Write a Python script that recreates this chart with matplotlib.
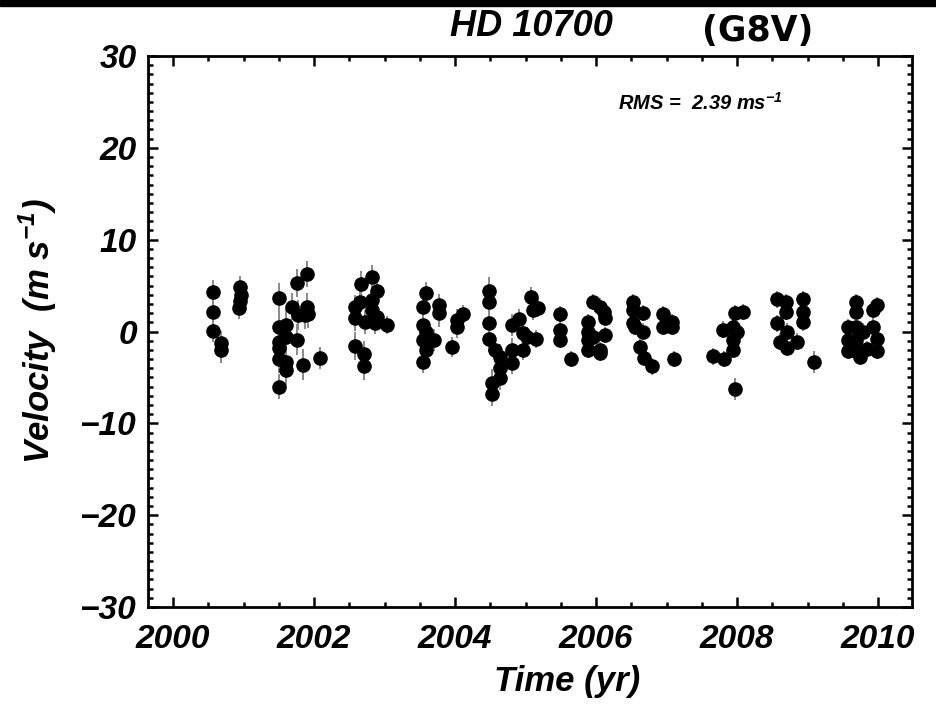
import matplotlib
matplotlib.use("Agg")
import matplotlib.pyplot as plt
from matplotlib import font_manager as fm
from matplotlib.patches import Rectangle
from matplotlib.ticker import MultipleLocator

names = {f.name for f in fm.fontManager.ttflist}
NARROW = ["Liberation Sans Narrow", "DejaVu Sans"] if "Liberation Sans Narrow" in names else ["Liberation Sans", "DejaVu Sans"]

# ---- data ----
years = [
    2000.57, 2000.57, 2000.57, 2000.68, 2000.68, 2000.93, 2000.95, 2000.96, 2000.95,
    2001.50, 2001.50, 2001.50, 2001.50, 2001.50, 2001.50,
    2001.60, 2001.60, 2001.60, 2001.60, 2001.69, 2001.76, 2001.76, 2001.77, 2001.84,
    2001.87, 2001.90, 2001.90, 2001.91, 2002.09,
    2002.58, 2002.58, 2002.58, 2002.65, 2002.67, 2002.71, 2002.71, 2002.72,
    2002.82, 2002.82, 2002.82, 2002.87, 2002.89, 2002.89, 2003.04,
    2003.55, 2003.55, 2003.55, 2003.55, 2003.59, 2003.59, 2003.59, 2003.70,
    2003.77, 2003.77, 2003.96, 2004.03, 2004.03, 2004.11,
    2004.48, 2004.48, 2004.48, 2004.48, 2004.52, 2004.52, 2004.57,
    2004.64, 2004.64, 2004.64, 2004.81, 2004.81, 2004.81, 2004.91, 2004.96, 2004.96,
    2005.02, 2005.08, 2005.11, 2005.15, 2005.18,
    2005.49, 2005.49, 2005.49, 2005.65,
    2005.89, 2005.89, 2005.89, 2005.89, 2005.96, 2005.96, 2006.06, 2006.06, 2006.06,
    2006.11, 2006.13, 2006.13,
    2006.52, 2006.52, 2006.52, 2006.55, 2006.62, 2006.67, 2006.67, 2006.68, 2006.79,
    2006.95, 2006.95, 2007.08, 2007.08, 2007.11,
    2007.66, 2007.80, 2007.82, 2007.94, 2007.94, 2007.94, 2007.97, 2007.97, 2008.00, 2008.09,
    2008.57, 2008.57, 2008.61, 2008.70, 2008.70, 2008.71, 2008.71, 2008.85,
    2008.94, 2008.94, 2008.94, 2009.09,
    2009.57, 2009.57, 2009.57, 2009.69, 2009.69, 2009.69, 2009.69, 2009.69,
    2009.74, 2009.79, 2009.84, 2009.93, 2009.93, 2009.99, 2009.99, 2009.99,
]
velocity = [
    4.3, 2.1, 0.05, -1.25, -2.0, 2.6, 3.3, 4.0, 4.8,
    3.65, 0.5, -1.1, -1.8, -3.0, -6.0,
    0.7, -0.6, -3.3, -4.2, 2.7, 5.3, -0.9, 1.8, -3.6,
    1.8, 6.3, 2.7, 1.9, -2.9,
    2.7, 1.5, -1.6, 3.2, 5.2, -2.4, -3.8, 1.0,
    5.9, 3.4, 2.3, 0.9, 4.4, 1.6, 0.7,
    2.7, 0.7, -0.9, -3.3, 4.2, 0.0, -2.0, -0.9,
    2.9, 2.0, -1.7, 1.2, 0.5, 1.9,
    4.4, 3.2, 0.9, -0.8, -5.6, -6.8, -2.0,
    -2.8, -4.0, -5.1, 0.7, -2.0, -3.4, 1.4, -0.2, -2.0,
    -0.6, 3.8, 2.3, -0.8, 2.6,
    1.9, 0.2, -0.9, -3.0,
    1.0, 0.0, -0.9, -2.0, 3.2, -0.6, 2.7, -2.0, -2.3,
    2.1, 1.5, -0.4,
    3.2, 2.3, 0.9, 0.5, -1.7, 2.0, 0.0, -2.9, -3.8,
    1.9, 0.5, 1.0, 0.5, -3.0,
    -2.7, 0.2, -3.0, 0.5, -0.9, -2.0, 2.0, -6.3, 0.0, 2.1,
    3.5, 0.9, -1.1, 3.2, 2.1, 0.0, -1.8, -1.1,
    3.5, 2.1, 1.0, -3.3,
    0.5, -0.9, -2.1, 3.2, 2.1, 0.5, -0.9, -2.1,
    -2.8, 0.0, -1.9, 2.3, 0.5, 2.9, -0.8, -2.1,
]
errors = [
    1.3, 1.2, 1.2, 1.3, 1.4, 1.2, 1.2, 1.3, 1.2,
    1.6, 1.5, 1.5, 1.6, 1.5, 1.4,
    1.7, 1.6, 1.5, 1.6, 1.5, 1.5, 1.7, 1.6, 1.7,
    1.5, 1.4, 1.5, 1.5, 1.2,
    1.3, 1.4, 1.5, 1.3, 1.4, 1.4, 1.5, 1.3,
    1.3, 1.4, 1.3, 1.2, 1.3, 1.2, 1.0,
    1.3, 1.2, 1.3, 1.2, 1.2, 1.3, 1.2, 1.2,
    1.2, 1.5, 1.1, 1.3, 1.2, 1.0,
    1.5, 1.4, 1.3, 1.4, 1.5, 1.3, 1.4,
    1.4, 1.5, 1.3, 1.2, 1.3, 1.2, 1.1, 1.2, 1.1,
    1.1, 1.0, 1.0, 1.0, 1.0,
    0.9, 0.9, 0.9, 0.9,
    0.9, 0.9, 0.9, 0.9, 0.9, 0.9, 0.9, 0.9, 0.9,
    0.9, 0.9, 0.9,
    0.9, 0.9, 0.9, 0.9, 0.9, 0.9, 0.9, 0.9, 0.9,
    0.9, 0.9, 0.9, 0.9, 0.9,
    0.9, 0.9, 0.9, 0.9, 0.9, 0.9, 0.9, 1.2, 0.9, 0.9,
    0.9, 0.9, 0.9, 0.9, 0.9, 0.9, 0.9, 0.9,
    0.9, 0.9, 0.9, 1.2,
    0.9, 0.9, 0.9, 0.9, 0.9, 0.9, 0.9, 0.9,
    0.9, 0.9, 0.9, 0.9, 0.9, 0.9, 0.9, 0.9,
]
xticks = [2000, 2002, 2004, 2006, 2008, 2010]
yticks = [-30, -20, -10, 0, 10, 20, 30]
title_star = "HD 10700"
title_type = "(G8V)"
rms_text = r"RMS =  2.39 ms$^{\mathregular{-1}}$"

fig = plt.figure(figsize=(9.37, 7.04), dpi=100)
ax = fig.add_axes([148/937, 1-607/704, (912-148)/937, (607-56)/704])

ax.errorbar(years, velocity, yerr=errors, fmt="none", ecolor="#8a8a8a", elinewidth=1.4, zorder=2)
ax.plot(years, velocity, "o", color="black", markersize=9.5, zorder=3)

ax.set_xlim(1999.645, 2010.48)
ax.set_ylim(-30, 30)
ax.set_xticks(xticks)
ax.set_yticks(yticks)
ax.xaxis.set_minor_locator(MultipleLocator(0.5))
ax.yaxis.set_minor_locator(MultipleLocator(1))
ax.tick_params(which="both", direction="in", top=True, right=True, width=1.8)
ax.tick_params(which="major", length=7, pad=12)
ax.tick_params(which="minor", length=3.8)
for s in ax.spines.values():
    s.set_linewidth(2.0)

tfont = dict(family=NARROW, weight="bold", style="italic")
ax.set_xticklabels([str(t) for t in xticks], **tfont, fontsize=24)
ax.set_yticklabels([("\u2212" + str(-t)) if t < 0 else str(t) for t in yticks], **tfont, fontsize=24)
ax.tick_params(axis="y", pad=8)

ax.set_xlabel("Time (yr)", **tfont, fontsize=25)
ax.xaxis.set_label_coords((567-148)/764, -(698-607)/551, transform=ax.transAxes)
ax.xaxis.label.set_va("bottom")
ax.set_ylabel(r"Velocity  (m s$^{\mathregular{-1}}$)", **tfont, fontsize=25, labelpad=15)

fig.text(531/937, 1-27/704, title_star, ha="center", va="center", **tfont, fontsize=26)
fig.text(758/937, 1-31/704, title_type, ha="center", va="center", family="DejaVu Sans", fontsize=25, weight="bold")
fig.text(700/937, 1-103/704, rms_text, ha="center", va="center", **tfont, fontsize=14.5)

fig.patches.append(Rectangle((0, 1-6/704), 1, 6/704, transform=fig.transFigure, color="black", zorder=10))

fig.savefig("out.png", dpi=100)
